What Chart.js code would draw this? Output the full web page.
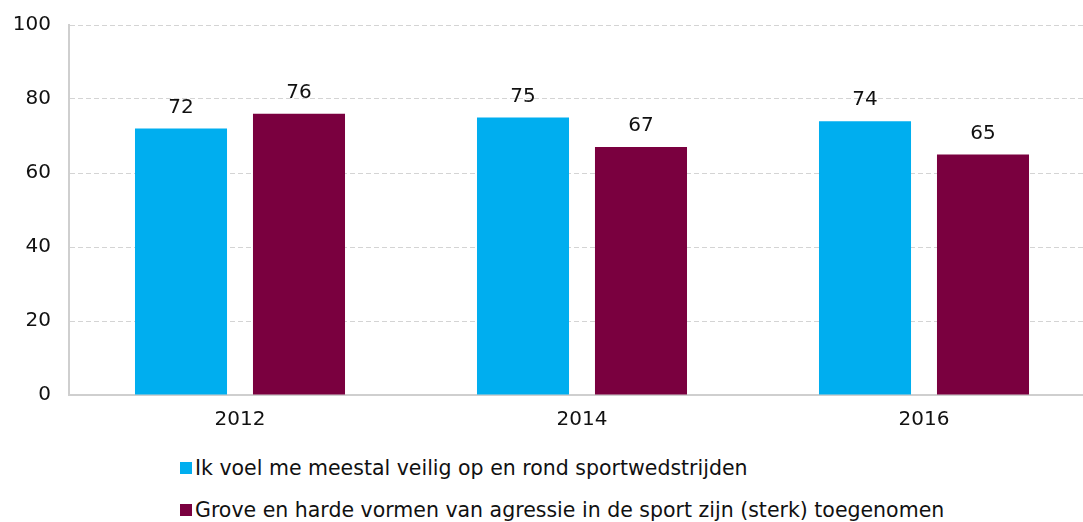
<!DOCTYPE html>
<html>
<head>
<meta charset="utf-8">
<script src="https://cdn.jsdelivr.net/npm/chart.js@4/dist/chart.umd.min.js"></script>
<style>
  html, body { margin: 0; padding: 0; background: #fff; overflow: hidden; }
  body { width: 1083px; height: 522px; position: relative; font-family: "DejaVu Sans", sans-serif; }
  #wrap { position: absolute; left: 0; top: -5px; width: 1095px; height: 450px; }
  .legend { position: absolute; left: 180px; font-size: 20.5px; line-height: 20px; color: #111; white-space: nowrap; }
  .legend span.box { display: inline-block; width: 12px; height: 12px; margin-right: 3px; vertical-align: 1px; }
</style>
</head>
<body>
<div id="wrap"><canvas id="myChart"></canvas></div>
<div class="legend" id="leg0" style="top:458px"></div>
<div class="legend" id="leg1" style="top:500px"></div>
<script>
// data
const jaren = ["2012", "2014", "2016"];
const veilig = [72, 75, 74];
const agressie = [76, 67, 65];
const reeksNamen = [
  "Ik voel me meestal veilig op en rond sportwedstrijden",
  "Grove en harde vormen van agressie in de sport zijn (sterk) toegenomen",
];
const kleuren = ["#00AEEF", "#7A003F"];

// legenda onderaan
reeksNamen.forEach((naam, i) => {
  const el = document.getElementById("leg" + i);
  el.innerHTML = `<span class="box" style="background:${kleuren[i]}"></span>${naam}`;
});

// labels boven de balken
const waardeLabels = {
  id: "waardeLabels",
  afterDatasetsDraw(chart) {
    const ctx = chart.ctx;
    ctx.save();
    ctx.font = '20px "DejaVu Sans"';
    ctx.fillStyle = "#111";
    ctx.textAlign = "center";
    ctx.textBaseline = "alphabetic";
    chart.data.datasets.forEach((ds, i) => {
      chart.getDatasetMeta(i).data.forEach((bar, j) => {
        ctx.fillText(ds.data[j], bar.x, bar.y - 16);
      });
    });
    ctx.restore();
  },
};

const ctx = document.getElementById("myChart").getContext("2d");
new Chart(ctx, {
  type: "bar",
  data: {
    labels: jaren,
    datasets: [
      { label: reeksNamen[0], data: veilig, backgroundColor: kleuren[0] },
      { label: reeksNamen[1], data: agressie, backgroundColor: kleuren[1] },
    ],
  },
  options: {
    responsive: true,
    maintainAspectRatio: false,
    animation: false,
    layout: { padding: { top: 17, left: 0, right: 0, bottom: 0 } },
    categoryPercentage: 0.69,
    barPercentage: 0.78,
    plugins: { legend: { display: false }, tooltip: { enabled: false } },
    scales: {
      x: {
        grid: { display: false, drawTicks: false },
        border: { color: "#cfcfcf", width: 2 },
        ticks: { color: "#111", font: { family: "DejaVu Sans", size: 20 }, padding: 13 },
        afterFit: (s) => { s.height = 50; },
      },
      y: {
        min: 0,
        max: 100,
        ticks: { stepSize: 20, color: "#111", font: { family: "DejaVu Sans", size: 20 }, padding: 18 },
        grid: { color: "#d4d4d4", drawTicks: false },
        border: { color: "#cfcfcf", width: 2, dash: [5, 3] },
        afterFit: (s) => { s.width = 69; },
      },
    },
  },
  plugins: [waardeLabels],
});
</script>
</body>
</html>
